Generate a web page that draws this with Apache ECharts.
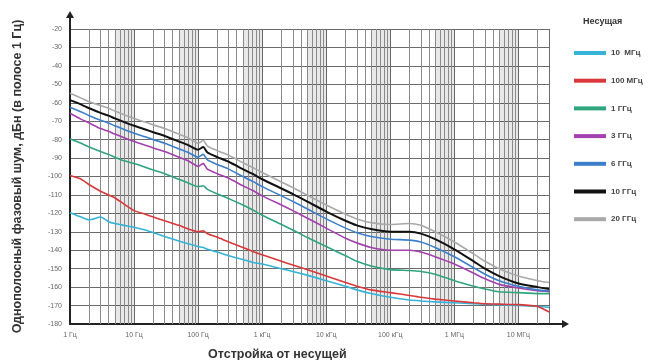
<!DOCTYPE html>
<html>
<head>
<meta charset="utf-8">
<script src="https://cdn.jsdelivr.net/npm/echarts@6/dist/echarts.min.js"></script>
<style>html,body{margin:0;padding:0;background:#fff}#c{width:658px;height:360px}</style>
</head>
<body>
<div id="c"></div>
<script>
// Offset frequencies (Hz)
const offsets = [1, 1.5, 2, 3, 4, 5, 7, 10, 15, 20, 30, 50, 70, 100, 120, 140, 200, 300, 500, 700,
  1e3, 2e3, 3e3, 5e3, 1e4, 2e4, 3e4, 5e4, 1e5, 2e5, 3e5, 5e5, 1e6, 2e6, 3e6, 5e6, 1e7, 2e7, 3e7];

const carrierNames = ['10  МГц', '100 МГц', '1 ГГц', '3 ГГц', '6 ГГц', '10 ГГц', '20 ГГц'];
const carrierColors = ['#35b3d8', '#d8383a', '#2ea57c', '#a43fae', '#3b7fcb', '#111111', '#a9a9a9'];

// Phase noise, dBc/Hz
const noise10M = [-119.6, -122, -123.5, -122, -124.5, -125.5, -126.5, -127.5, -129, -130.5, -132.5, -135, -136.5, -138, -138.5, -139.5, -141, -143, -145, -146.5,
  -147.5, -150, -151.5, -153.5, -156.5, -159.5, -161.5, -163.5, -165.5, -167, -167.5, -168, -168.5, -169, -169.3, -169.5, -170, -170.5, -171];
const noise100M = [-99.5, -101.5, -104.5, -108, -110, -111.5, -115, -118.5, -120.5, -122, -124, -126.5, -128.5, -130, -129.5, -131, -133, -135.5, -138.5, -140.5,
  -142.5, -146, -148, -150.5, -154, -157.5, -159.5, -161.5, -163, -164.5, -165.5, -166.5, -167.5, -168.5, -169, -169.2, -169.5, -170.5, -173.5];
const noise1G = [-79.5, -82, -84, -86.5, -88, -89.5, -91.5, -93, -95, -96.5, -98.5, -101.5, -103.5, -105.5, -105, -107, -109.5, -112, -115.5, -118,
  -121, -126, -129, -133, -138, -143, -146, -148.5, -150.5, -151, -151.5, -153, -156.5, -159.5, -161, -162.5, -163, -163.5, -163.5];
const noise3G = [-65.7, -69, -71, -74, -75.5, -77, -79, -81, -83, -84.5, -86.5, -89.5, -91.5, -94.5, -93, -96, -98.5, -101, -105, -107.5,
  -110.5, -115.5, -118.5, -122.5, -128, -133.5, -136, -138.5, -140, -140, -141, -143.5, -147.5, -152.5, -155.5, -158.5, -160.5, -162, -162.5];
const noise6G = [-62.4, -65, -67, -69.5, -71, -72.5, -74.5, -76.5, -78.5, -80, -82, -85, -87, -89.5, -88, -91, -93.5, -96, -100, -102.5,
  -105.5, -110.5, -113.5, -117.5, -123, -128, -130.5, -132.5, -134, -134.5, -135.5, -138.5, -143.5, -149.5, -153, -156.5, -159.5, -161.5, -162];
const noise10G = [-58.6, -61, -63, -65.5, -67, -68.5, -70.5, -72.5, -74.5, -76, -78, -81, -83, -85.5, -84, -87, -89.5, -92, -96, -98.5,
  -101.5, -106.5, -109.5, -113.5, -119, -124, -126.5, -128.5, -130, -130, -131, -134, -139.5, -146, -150, -154, -158, -160, -161];
const noise20G = [-54.8, -57.5, -59.5, -61.5, -63, -64.5, -66.5, -68.5, -70.5, -72, -74, -77, -79, -82, -80.5, -83.5, -86, -88.5, -92.5, -95,
  -97.8, -103, -106, -110, -115.5, -120.5, -123, -125, -126, -125.5, -126.5, -130, -135.5, -142, -146, -150, -154, -156.5, -157.5];

const xTickLabels = ['1 Гц', '10 Гц', '100 Гц', '1 кГц', '10 кГц', '100 кГц', '1 МГц', '10 МГц'];
const yMin = -180, yMax = -20, yStep = 10;
const xMin = 1, xMax = 3e7;

const allNoise = [noise10M, noise100M, noise1G, noise3G, noise6G, noise10G, noise20G];

// Log grid: minor lines and shaded bands
const minorLines = [];
const bands = [];
for (let n = 0; n <= 7; n++) {
  const d = Math.pow(10, n);
  for (let k = 2; k <= 9; k++) {
    if (k * d < xMax) minorLines.push({ xAxis: k * d });
  }
  if (5 * d < xMax) bands.push([{ xAxis: 5 * d }, { xAxis: Math.min(10 * d, xMax) }]);
}

const FONT = 'Liberation Sans, Arial, sans-serif';

const series = [{
  name: '_grid',
  type: 'line',
  data: [],
  silent: true,
  z: 1,
  markLine: {
    silent: true, symbol: 'none', animation: false,
    label: { show: false },
    lineStyle: { color: '#8a8a8a', width: 1, type: 'solid' },
    data: minorLines
  },
  markArea: {
    silent: true, animation: false,
    itemStyle: { color: 'rgba(0,0,0,0.09)' },
    data: bands
  }
}];
allNoise.forEach((arr, i) => {
  series.push({
    name: carrierNames[i],
    type: 'line',
    data: offsets.map((f, j) => [f, arr[j]]),
    showSymbol: false,
    smooth: 0.2,
    z: 5 + i,
    lineStyle: { color: carrierColors[i], width: i === 5 ? 2 : 1.6 },
    itemStyle: { color: carrierColors[i] }
  });
});

const chart = echarts.init(document.getElementById('c'), null, { renderer: 'canvas' });
chart.setOption({
  animation: false,
  backgroundColor: '#fff',
  title: [
    { text: 'Несущая', left: 578, top: 12, textStyle: { fontFamily: FONT, fontSize: 9, fontWeight: 'bold', color: '#333' } },
    { text: 'Отстройка от несущей', left: 203, top: 343, textStyle: { fontFamily: FONT, fontSize: 12.5, fontWeight: 'bold', color: '#333' } }
  ],
  legend: {
    data: carrierNames,
    orient: 'vertical',
    left: 569,
    top: 43,
    icon: 'rect',
    itemWidth: 32,
    itemHeight: 4,
    itemGap: 17.7,
    textStyle: { fontFamily: FONT, fontSize: 8, fontWeight: 'bold', color: '#444', lineHeight: 10 }
  },
  grid: { left: 70, right: 109, top: 29, bottom: 36, containLabel: false },
  xAxis: {
    type: 'log',
    logBase: 10,
    min: xMin,
    max: xMax,
    axisLine: { show: true, lineStyle: { color: '#222', width: 2 } },
    axisTick: { show: false },
    splitLine: { show: true, lineStyle: { color: '#6a6a6a', width: 1 } },
    axisLabel: {
      fontFamily: FONT, fontSize: 7, color: '#666', margin: 8,
      formatter: function (v) {
        const p = Math.round(Math.log10(v));
        if (Math.abs(Math.log10(v) - p) > 1e-6) return '';
        return xTickLabels[p] || '';
      }
    }
  },
  yAxis: {
    type: 'value',
    min: yMin,
    max: yMax,
    interval: yStep,
    name: 'Однополосный фазовый шум, дБн (в полосе 1 Гц)',
    nameLocation: 'middle',
    nameGap: 46,
    nameRotate: 90,
    nameTextStyle: { fontFamily: FONT, fontSize: 12.5, fontWeight: 'bold', color: '#333' },
    axisLine: { show: true, lineStyle: { color: '#222', width: 2 } },
    axisTick: { show: false },
    splitLine: { show: true, lineStyle: { color: '#6a6a6a', width: 1 } },
    axisLabel: { fontFamily: FONT, fontSize: 7, color: '#666', margin: 8 }
  },
  graphic: [
    { type: 'line', shape: { x1: 70, y1: 29, x2: 70, y2: 16 }, style: { stroke: '#222', lineWidth: 2 } },
    { type: 'polygon', shape: { points: [[66, 18], [74, 18], [70, 11]] }, style: { fill: '#222' } },
    { type: 'line', shape: { x1: 549, y1: 324, x2: 564, y2: 324 }, style: { stroke: '#222', lineWidth: 2 } },
    { type: 'polygon', shape: { points: [[562, 320], [562, 328], [569, 324]] }, style: { fill: '#222' } }
  ],
  series: series
});
</script>
</body>
</html>
